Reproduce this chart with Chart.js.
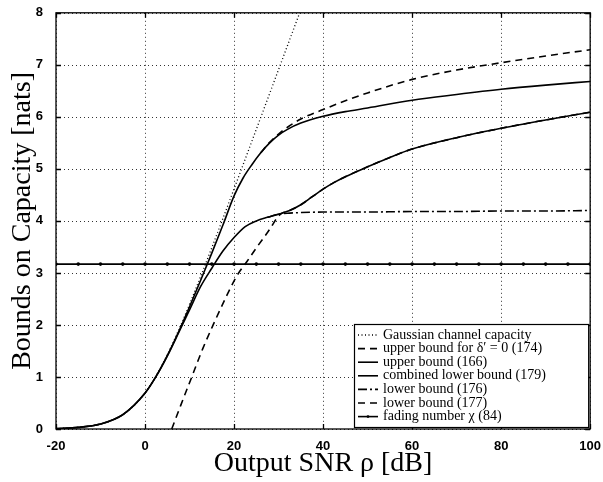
<!DOCTYPE html>
<html>
<head>
<meta charset="utf-8">
<script src="https://cdn.jsdelivr.net/npm/chart.js@4.4.0/dist/chart.umd.min.js"></script>
<style>
  html, body { margin: 0; padding: 0; background: #fff; }
  #wrap { width: 603px; height: 482px; }
</style>
</head>
<body>
<div id="wrap"><canvas id="c" width="603" height="482"></canvas></div>
<script>
// ---- data ----
const xTickValues = [-20, 0, 20, 40, 60, 80, 100];
const yTickValues = [0, 1, 2, 3, 4, 5, 6, 7, 8];

const snrGauss = [-20,-17.5,-15,-12.5,-10,-7.5,-5,-2.5,0,2.5,5,7.5,10,12.5,15,17.5,20,22.5,25,27.5,30,32.5,35];
const capGauss = [0.010,0.018,0.031,0.055,0.095,0.164,0.275,0.446,0.693,1.022,1.426,1.891,2.398,2.933,3.485,4.047,4.615,5.186,5.760,6.334,6.909,7.484,8.059];

const snrUb174 = [26,28,30,32,35,40,45,50,60,70,80,90,100];
const ub174    = [5.31,5.51,5.67,5.80,5.96,6.14,6.31,6.46,6.72,6.90,7.04,7.17,7.29];

const snrUb166 = [-20,-15,-10,-5,0,2.5,5,7.5,10,12.5,15,17.5,20,22,24,26,28,30,32,35,40,45,50,60,70,80,90,100];
const ub166    = [0.010,0.031,0.095,0.275,0.690,1.015,1.41,1.86,2.35,2.86,3.38,3.92,4.48,4.82,5.08,5.31,5.50,5.65,5.76,5.88,6.01,6.10,6.17,6.32,6.43,6.53,6.61,6.68];

const snrLb179 = [-20,-15,-10,-5,0,2.5,5,7.5,10,12.5,15,17.5,20,22.5,25,27.5,30,32.5,35,37.5,40,42.5,45,50,55,60,70,80,90,100];
const lb179    = [0.010,0.031,0.095,0.274,0.688,1.01,1.40,1.84,2.29,2.74,3.09,3.42,3.68,3.89,4.00,4.07,4.13,4.20,4.31,4.46,4.61,4.74,4.85,5.04,5.22,5.38,5.60,5.78,5.94,6.09];

const snrLb176 = [27.5,30,32.5,35,40,50,60,70,80,90,100];
const lb176    = [4.07,4.13,4.15,4.16,4.17,4.17,4.18,4.18,4.19,4.19,4.20];

const snrLb177 = [6,8,10.5,13,15.3,18,20.6,22.9,25,27.7,30.3,32.5,35,37.5,40,42.5,45,50,55,60,70,80,90,100];
const lb177    = [0,0.45,1.0,1.55,2.0,2.5,2.94,3.22,3.48,3.80,4.12,4.20,4.31,4.46,4.61,4.74,4.85,5.04,5.22,5.38,5.60,5.78,5.94,6.09];

const snrFading = [-20,-15,-10,-5,0,5,10,15,20,25,30,35,40,45,50,55,60,65,70,75,80,85,90,95,100];
const fadingChi = [3.17,3.17,3.17,3.17,3.17,3.17,3.17,3.17,3.17,3.17,3.17,3.17,3.17,3.17,3.17,3.17,3.17,3.17,3.17,3.17,3.17,3.17,3.17,3.17,3.17];

const labels = [
  'Gaussian channel capacity',
  'upper bound for \u03B4\u2032 = 0 (174)',
  'upper bound (166)',
  'combined lower bound (179)',
  'lower bound (176)',
  'lower bound (177)',
  'fading number \u03C7 (84)'
];

function pts(xs, ys) { return xs.map((x, i) => ({ x: x, y: ys[i] })); }

const base = { borderColor: '#000', backgroundColor: '#000', fill: false, pointRadius: 0, cubicInterpolationMode: 'monotone' };

const datasets = [
  Object.assign({}, base, { label: labels[0], data: pts(snrGauss, capGauss), borderWidth: 1.3, borderDash: [1, 2.5] }),
  Object.assign({}, base, { label: labels[1], data: pts(snrUb174, ub174), borderWidth: 1.6, borderDash: [7, 5] }),
  Object.assign({}, base, { label: labels[2], data: pts(snrUb166, ub166), borderWidth: 1.6 }),
  Object.assign({}, base, { label: labels[3], data: pts(snrLb179, lb179), borderWidth: 1.6 }),
  Object.assign({}, base, { label: labels[4], data: pts(snrLb176, lb176), borderWidth: 1.6, borderDash: [9, 3, 2, 3] }),
  Object.assign({}, base, { label: labels[5], data: pts(snrLb177, lb177), borderWidth: 1.6, borderDash: [7, 5] }),
  Object.assign({}, base, { label: labels[6], data: pts(snrFading, fadingChi), borderWidth: 1.6, pointRadius: 1, pointStyle: 'circle', cubicInterpolationMode: 'default' })
];

// dotted grid drawn from the library's scales
const gridPlugin = {
  id: 'dotGrid',
  beforeDatasetsDraw(chart) {
    const { ctx, chartArea: a, scales: { x, y } } = chart;
    ctx.save();
    ctx.strokeStyle = 'rgba(0,0,0,0.8)';
    ctx.lineWidth = 1;
    ctx.setLineDash([1, 3]);
    ctx.beginPath();
    xTickValues.forEach(v => {
      const px = Math.round(x.getPixelForValue(v)) + 0.5;
      ctx.moveTo(px, a.top); ctx.lineTo(px, a.bottom);
    });
    yTickValues.forEach(v => {
      const py = Math.round(y.getPixelForValue(v)) + 0.5;
      ctx.moveTo(a.left, py); ctx.lineTo(a.right, py);
    });
    ctx.stroke();
    ctx.restore();
  }
};

// frame + inward ticks on all four sides
const framePlugin = {
  id: 'frame',
  afterDatasetsDraw(chart) {
    const { ctx, chartArea: a, scales: { x, y } } = chart;
    ctx.save();
    ctx.strokeStyle = '#000';
    ctx.lineWidth = 1.3;
    ctx.setLineDash([]);
    ctx.strokeRect(a.left, a.top, a.right - a.left, a.bottom - a.top);
    const L = 5;
    ctx.beginPath();
    xTickValues.forEach(v => {
      const px = Math.round(x.getPixelForValue(v)) + 0.5;
      ctx.moveTo(px, a.bottom); ctx.lineTo(px, a.bottom - L);
      ctx.moveTo(px, a.top); ctx.lineTo(px, a.top + L);
    });
    yTickValues.forEach(v => {
      const py = Math.round(y.getPixelForValue(v)) + 0.5;
      ctx.moveTo(a.left, py); ctx.lineTo(a.left + L, py);
      ctx.moveTo(a.right, py); ctx.lineTo(a.right - L, py);
    });
    ctx.stroke();
    ctx.restore();
  }
};

// legend box inside lower right of the plot
const legendPlugin = {
  id: 'boxLegend',
  afterDraw(chart) {
    const { ctx, chartArea: a } = chart;
    const boxL = 354, boxR = a.right - 2, boxT = 324, boxB = a.bottom - 2;
    ctx.save();
    ctx.fillStyle = '#fff';
    ctx.fillRect(boxL, boxT, boxR - boxL, boxB - boxT);
    ctx.strokeStyle = '#000';
    ctx.lineWidth = 1.2;
    ctx.setLineDash([]);
    ctx.strokeRect(boxL + 0.5, boxT + 0.5, boxR - boxL, boxB - boxT);
    ctx.font = '14px "Liberation Serif", "Times New Roman", serif';
    ctx.textBaseline = 'middle';
    ctx.fillStyle = '#000';
    chart.data.datasets.forEach((ds, i) => {
      const yy = boxT + 11 + i * 13.6;
      ctx.beginPath();
      ctx.lineWidth = ds.borderWidth;
      ctx.setLineDash(ds.borderDash || []);
      ctx.moveTo(boxL + 4, yy);
      ctx.lineTo(boxL + 24, yy);
      ctx.stroke();
      ctx.setLineDash([]);
      if (ds.pointRadius > 0) {
        ctx.beginPath();
        ctx.arc(boxL + 14, yy, 1.4, 0, Math.PI * 2);
        ctx.fill();
      }
      ctx.fillText(ds.label, boxL + 29, yy);
    });
    ctx.restore();
  }
};

const tickFont = { family: '"Liberation Sans", Arial, Helvetica, sans-serif', size: 13, weight: 'bold' };
const titleFont = { family: '"Liberation Serif", "Times New Roman", serif', size: 28, lineHeight: 1.2 };

new Chart(document.getElementById('c'), {
  type: 'line',
  data: { datasets: datasets },
  plugins: [gridPlugin, framePlugin, legendPlugin],
  options: {
    responsive: false,
    animation: false,
    events: [],
    layout: { padding: { top: 10, right: 12, left: 0, bottom: 0 } },
    plugins: { legend: { display: false }, tooltip: { enabled: false } },
    scales: {
      x: {
        type: 'linear',
        min: -20, max: 100,
        afterBuildTicks(s) { s.ticks = xTickValues.map(v => ({ value: v })); },
        afterFit(s) { s.height = 53; },
        ticks: { font: tickFont, color: '#000', padding: 2, maxRotation: 0 },
        grid: { display: false },
        border: { display: false },
        title: { display: true, text: 'Output SNR \u03C1 [dB]', font: titleFont, color: '#000', padding: { top: 0, bottom: 2 } }
      },
      y: {
        type: 'linear',
        min: 0, max: 8,
        afterBuildTicks(s) { s.ticks = yTickValues.map(v => ({ value: v })); },
        afterFit(s) { s.width = 56; },
        ticks: { font: tickFont, color: '#000', padding: 5 },
        grid: { display: false },
        border: { display: false },
        title: { display: true, text: 'Bounds on Capacity [nats]', font: titleFont, color: '#000', padding: { top: 6, bottom: 0 } }
      }
    }
  }
});
</script>
</body>
</html>
